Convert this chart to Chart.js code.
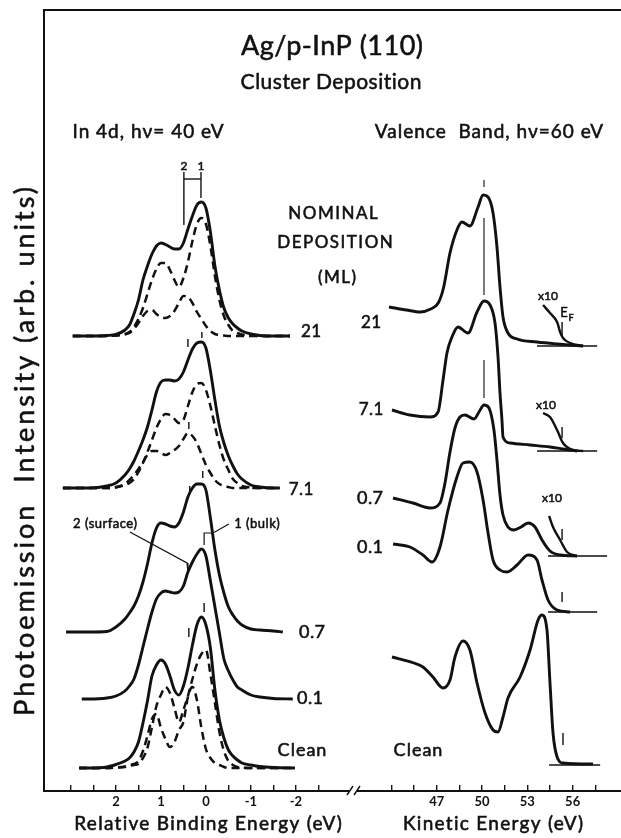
<!DOCTYPE html>
<html>
<head>
<meta charset="utf-8">
<script src="https://cdn.jsdelivr.net/npm/chart.js@4.4.1/dist/chart.umd.min.js"></script>
<style>
  html, body { margin: 0; padding: 0; background: #fff; }
  #spectra { display: block; }
</style>
</head>
<body>
<canvas id="spectra" width="621" height="838"></canvas>
<script>
// ---- In 4d core level (left panel) ----
const COVERAGES = ['21', '7.1', '0.7', '0.1', 'Clean'];

// relative binding energy (eV) at which every In 4d curve is sampled
const BE_GRID = [2.6, 2.2, 2.0, 1.8, 1.7, 1.6, 1.5, 1.4, 1.3, 1.2, 1.1, 1.0, 0.9, 0.8, 0.7, 0.6, 0.5,
  0.4, 0.3, 0.2, 0.1, 0.0, -0.1, -0.2, -0.3, -0.4, -0.5, -0.6, -0.7, -0.8, -1.0, -1.2, -1.5];

// baseline of each spectrum and where its flat wings start / end
const IN4D_OFFSET = [45.5, 30.3, 15.9, 9.2, 2.3];
const IN4D_START = [2.96, 3.18, 3.11, 2.76, 2.82];
const IN4D_END = [-1.87, -1.64, -1.71, -1.93, -1.98];

// measured spectra (arb. units above baseline)
const IN4D_21 = [0, 0.05, 0.15, 0.6, 1.1, 2.2, 3.6, 5.6, 7.0, 8.2, 9.0, 9.3, 9.15, 8.9, 8.7, 8.7, 9.3,
  10.7, 12.0, 13.1, 13.4, 12.8, 10.4, 7.0, 4.6, 2.8, 1.8, 1.2, 0.8, 0.5, 0.2, 0.05, 0];
const IN4D_71 = [0, 0.2, 0.5, 1.3, 1.9, 2.7, 3.7, 4.8, 6.1, 7.8, 9.6, 10.6, 10.8, 10.8, 10.7, 10.9, 11.6,
  12.8, 13.9, 14.5, 14.6, 14.0, 11.7, 8.8, 6.2, 4.5, 3.2, 2.2, 1.4, 0.9, 0.3, 0.1, 0];
const IN4D_07 = [0, 0.05, 0.5, 1.3, 1.9, 2.6, 3.6, 5.0, 6.8, 8.9, 10.4, 10.9, 10.8, 10.6, 10.5, 10.9, 12.0,
  13.5, 14.4, 14.8, 14.8, 14.2, 11.4, 8.2, 5.7, 3.9, 2.5, 1.7, 1.1, 0.7, 0.3, 0.2, 0.1];
const IN4D_01 = [0, 0.1, 0.3, 0.8, 1.3, 2.0, 3.4, 5.2, 7.0, 8.7, 10.0, 10.6, 10.8, 10.7, 10.6, 10.7, 11.3,
  12.7, 13.7, 14.5, 15.0, 14.3, 11.8, 9.2, 6.6, 4.0, 2.8, 1.9, 1.2, 0.9, 0.4, 0.2, 0.05];
const IN4D_CLEAN = [0, 0.1, 0.35, 0.7, 1.0, 1.6, 2.6, 4.5, 6.7, 9.2, 10.3, 10.8, 10.4, 9.2, 7.8, 7.3, 8.2,
  10.0, 12.3, 14.3, 15.1, 14.3, 12.0, 7.8, 4.8, 3.0, 1.8, 1.2, 0.8, 0.5, 0.3, 0.15, 0.05];

// fitted components: 1 = bulk, 2 = surface
const BULK_21 = [0, 0, 0.05, 0.2, 0.4, 0.9, 1.7, 2.8, 4.2, 5.6, 6.7, 7.3, 7.3, 6.6, 5.6, 4.9, 5.8,
  7.4, 9.5, 11.2, 11.8, 11.2, 9.0, 6.0, 3.6, 2.0, 1.1, 0.5, 0.3, 0.15, 0.05, 0, 0];
const SURF_21 = [0, 0, 0.05, 0.15, 0.3, 0.7, 1.3, 2.0, 2.5, 2.6, 2.2, 1.9, 1.8, 2.0, 2.5, 3.3, 4.0,
  3.9, 3.3, 2.4, 1.7, 1.0, 0.5, 0.2, 0.1, 0.05, 0, 0, 0, 0, 0, 0, 0];
const BULK_71 = [0, 0, 0.05, 0.3, 0.5, 0.9, 1.6, 2.5, 3.6, 4.8, 6.0, 6.9, 7.4, 7.3, 6.9, 6.5, 6.8,
  8.2, 9.6, 10.4, 10.5, 9.8, 8.2, 6.2, 4.3, 2.8, 1.8, 0.9, 0.5, 0.2, 0.05, 0, 0];
const SURF_71 = [0, 0, 0.1, 0.4, 0.8, 1.3, 1.9, 2.6, 3.3, 3.7, 3.7, 3.5, 3.3, 3.5, 3.8, 4.2, 4.9,
  5.5, 5.2, 4.5, 3.4, 2.3, 1.5, 0.8, 0.4, 0.2, 0.1, 0, 0, 0, 0, 0, 0];
const BULK_CLEAN = [0, 0, 0.05, 0.1, 0.2, 0.3, 0.4, 1.0, 2.0, 4.1, 6.2, 7.3, 8.1, 7.5, 6.0, 4.6, 5.8,
  7.2, 8.9, 10.4, 11.4, 11.8, 9.4, 6.5, 3.6, 1.7, 0.7, 0.3, 0.1, 0.05, 0, 0, 0];
const SURF_CLEAN = [0, 0, 0.05, 0.15, 0.3, 0.4, 0.7, 1.7, 3.2, 4.9, 5.4, 4.0, 2.9, 2.1, 2.6, 3.8, 4.6,
  7.1, 8.1, 6.8, 4.0, 1.9, 1.0, 0.5, 0.3, 0.1, 0, 0, 0, 0, 0, 0, 0];

// component position marks [BE, top, bottom]
const IN4D_MARKS = [[0.09, 45.9, 45.3], [0.40, 45.2, 44.4], [0.38, 36.9, 36.2],
  [0.07, 32.0, 31.3], [0.36, 30.5, 29.9], [0.04, 18.8, 17.9], [0.38, 16.3, 15.4]];
// "2 1" bracket on the top spectrum
const BRACKET_BE = [0.49, 0.11];
const BRACKET_Y = [61.2, 61.9, 56.6, 59.3];
// leaders for the 0.1 ML labels
const SURFACE_LEADER = [[1.69, 25.9], [0.42, 22.8], [0.40, 21.9]];
const BULK_LEADER = [[-0.51, 26.7], [-0.16, 25.8], [0.04, 25.8], [0.04, 24.6]];

const BE_TICKS = [3, 2.5, 2, 1.5, 1, 0.5, 0, -0.5, -1, -1.5, -2, -2.5];
const BE_LABELS = [2, 1, 0, -1, -2];

// ---- valence band (right panel), [kinetic energy, intensity above baseline] ----
const VB_OFFSET = [44.5, 34.0, 23.5, 17.9, 2.6];
const VB_21 = [[43.84, 3.9], [45.0, 3.6], [45.9, 3.4], [46.6, 3.7], [47.1, 4.3], [47.45, 5.8], [47.88, 9.3],
  [48.34, 11.6], [48.67, 12.4], [49.2, 12.0], [49.74, 13.9], [50.07, 15.1], [50.40, 14.9], [50.73, 13.3],
  [50.99, 9.9], [51.19, 5.9], [51.39, 2.9], [51.72, 1.3], [52.32, 0.7], [53.64, 0.4], [54.97, 0.2],
  [55.83, 0.1], [56.69, 0]];
const VB_71 = [[44.04, 4.1], [45.23, 3.6], [46.56, 3.4], [47.09, 3.9], [47.42, 7.1], [47.68, 9.8],
  [48.01, 11.4], [48.41, 12.4], [49.07, 11.8], [49.67, 13.9], [50.13, 15.0], [50.53, 14.6], [50.86, 12.8],
  [51.06, 9.4], [51.19, 5.8], [51.32, 3.1], [51.39, 1.4], [51.85, 0.8], [53.18, 0.6], [54.50, 0.4],
  [55.36, 0.2], [56.29, 0]];
const VB_07 = [[44.11, 5.8], [45.43, 5.3], [46.56, 4.8], [47.22, 5.3], [47.55, 7.3], [47.88, 10.4],
  [48.21, 12.8], [48.54, 13.9], [48.87, 14.1], [49.47, 13.7], [49.80, 14.4], [50.13, 15.1], [50.46, 14.8],
  [50.79, 12.6], [50.99, 9.6], [51.19, 6.1], [51.39, 4.1], [51.72, 2.9], [52.12, 2.6], [52.58, 2.9],
  [53.05, 3.3], [53.51, 2.9], [53.97, 1.6], [54.50, 0.5], [55.17, 0.1], [56.29, 0]];
const VB_01 = [[44.11, 6.8], [45.23, 6.5], [46.09, 5.7], [46.69, 5.0], [47.22, 6.5], [47.75, 10.2],
  [48.34, 13.5], [48.74, 14.9], [49.20, 15.0], [49.67, 14.0], [50.07, 11.2], [50.40, 7.9], [50.73, 5.2],
  [51.19, 4.2], [51.66, 4.0], [52.32, 4.7], [53.05, 5.7], [53.64, 5.2], [53.97, 3.2], [54.37, 1.2],
  [54.97, 0.2], [55.83, 0]];
const VB_CLEAN = [[44.04, 10.8], [45.5, 10.2], [46.09, 9.8], [46.75, 8.8], [47.42, 7.7], [47.88, 8.5],
  [48.21, 10.8], [48.74, 12.4], [49.20, 11.5], [49.67, 8.2], [50.20, 5.2], [50.73, 3.5], [51.06, 3.3],
  [51.39, 4.8], [51.72, 6.7], [52.52, 8.8], [53.18, 11.5], [53.71, 14.5], [53.97, 15.0], [54.30, 13.5],
  [54.50, 8.2], [54.70, 3.2], [54.97, 0.8], [55.36, 0.2], [57.35, 0.1]];

// Fermi edge region magnified x10
const VB_21_X10 = [[54.04, 4.1], [54.50, 3.3], [54.97, 2.4], [55.17, 1.4], [55.36, 0.8], [55.83, 0.3], [56.69, 0]];
const VB_71_X10 = [[54.04, 3.8], [54.50, 3.4], [54.97, 2.1], [55.36, 0.8], [56.03, 0.1], [56.69, 0]];
const VB_07_X10 = [[54.44, 4.0], [54.70, 2.9], [55.17, 1.6], [55.63, 0.4], [56.29, 0]];

// zero lines under the Fermi edge [from, to] and E_F marks [KE, top, bottom]
const VB_ZERO = [[53.64, 57.62], [53.64, 57.62], [54.37, 58.28], [54.37, 57.62], [54.44, 57.82]];
const EF_MARKS = [[55.3, 2.4, 0.9], [55.3, 2.4, 1.3], [55.3, 2.7, 1.6], [55.3, 2.0, 1.0], [55.36, 3.2, 2.0]];

// Ag 4d peak position line
const AG_PEAK_KE = 50.13;
const AG_LINE_Y = [[61.1, 60.4], [57.3, 49.6], [43.1, 39.3]];

const KE_TICKS = [44, 45.5, 47, 48.5, 50, 51.5, 53, 54.5, 56, 57.5];
const KE_LABELS = [47, 50, 53, 56];

// ---------------------------------------------------------------
const ink = '#111';
const FONT = 'Lato, "Noto Sans", sans-serif';

function in4dCurve(values, i) {
  const off = IN4D_OFFSET[i];
  const pts = BE_GRID.map((e, k) => ({ x: e, y: values[k] + off }));
  return [{ x: IN4D_START[i], y: off }, ...pts, { x: IN4D_END[i], y: off }];
}

function vbCurve(pairs, i) {
  return pairs.map(p => ({ x: p[0], y: p[1] + VB_OFFSET[i] }));
}

function curve(axis, data, dashed) {
  return {
    xAxisID: axis, yAxisID: 'y', data: data,
    borderColor: ink, borderWidth: dashed ? 2.5 : 2.9,
    borderDash: dashed ? [8, 5] : [],
    pointRadius: 0, fill: false,
    cubicInterpolationMode: 'monotone'
  };
}

function rule(axis, data, width) {
  return {
    xAxisID: axis, yAxisID: 'y', data: data,
    borderColor: ink, borderWidth: width || 1.4,
    pointRadius: 0, fill: false, tension: 0
  };
}

const datasets = [];
const totals = [IN4D_21, IN4D_71, IN4D_07, IN4D_01, IN4D_CLEAN];
totals.forEach((v, i) => datasets.push(curve('be', in4dCurve(v, i), false)));
[[BULK_21, SURF_21, 0], [BULK_71, SURF_71, 1], [BULK_CLEAN, SURF_CLEAN, 4]].forEach(([b, s, i]) => {
  datasets.push(curve('be', in4dCurve(b, i), true));
  datasets.push(curve('be', in4dCurve(s, i), true));
});
IN4D_MARKS.forEach(m => datasets.push(rule('be', [{ x: m[0], y: m[1] }, { x: m[0], y: m[2] }])));
datasets.push(rule('be', [
  { x: BRACKET_BE[0], y: BRACKET_Y[2] }, { x: BRACKET_BE[0], y: BRACKET_Y[1] }
]));
datasets.push(rule('be', [
  { x: BRACKET_BE[1], y: BRACKET_Y[3] }, { x: BRACKET_BE[1], y: BRACKET_Y[1] }
]));
datasets.push(rule('be', [
  { x: BRACKET_BE[0], y: BRACKET_Y[0] }, { x: BRACKET_BE[1], y: BRACKET_Y[0] }
]));
datasets.push(rule('be', SURFACE_LEADER.map(p => ({ x: p[0], y: p[1] })), 1.2));
datasets.push(rule('be', BULK_LEADER.map(p => ({ x: p[0], y: p[1] })), 1.2));

[VB_21, VB_71, VB_07, VB_01, VB_CLEAN].forEach((v, i) => datasets.push(curve('ke', vbCurve(v, i), false)));
[VB_21_X10, VB_71_X10, VB_07_X10].forEach((v, i) => {
  const d = curve('ke', vbCurve(v, i), false);
  d.borderWidth = 2.4;
  datasets.push(d);
});
VB_ZERO.forEach((z, i) => datasets.push(rule('ke', [
  { x: z[0], y: VB_OFFSET[i] }, { x: z[1], y: VB_OFFSET[i] }
], 1.6)));
EF_MARKS.forEach((m, i) => datasets.push(rule('ke', [
  { x: m[0], y: m[1] + VB_OFFSET[i] }, { x: m[0], y: m[2] + VB_OFFSET[i] }
])));
AG_LINE_Y.forEach(s => datasets.push(rule('ke', [
  { x: AG_PEAK_KE, y: s[0] }, { x: AG_PEAK_KE, y: s[1] }
], 1.1)));

// free-standing lettering: [text, x, y, size, letter spacing]
const LETTERING = [
  ['Ag/p-InP (110)', 332, 46, 27, 0.5],
  ['Cluster Deposition', 331, 82, 21, 0.5],
  ['In 4d, h\u03bd= 40 eV', 148, 132, 19, 1],
  ['Valence  Band, h\u03bd=60 eV', 489, 132, 19, 1],
  ['2', 184, 166, 12, 0], ['1', 201, 166, 12, 0],
  ['NOMINAL', 333, 214, 17, 1.5], ['DEPOSITION', 335, 243, 17, 1.5], ['(ML)', 337, 278, 17, 1.5],
  ['21', 311, 332, 17, 0.5], ['7.1', 301, 490, 17, 0.5], ['0.7', 312, 632, 18, 0.5], ['0.1', 310, 698, 18, 0.5],
  ['Clean', 302, 750, 18, 1],
  ['21', 371, 323, 17, 0.5], ['7.1', 371, 410, 17, 0.5], ['0.7', 370, 498, 18, 0.5], ['0.1', 370, 547, 18, 0.5],
  ['Clean', 418, 750, 18, 1],
  ['2 (surface)', 105, 524, 13, 0.5], ['1 (bulk)', 257, 524, 13, 0.5],
  ['x10', 548, 296, 12, 0], ['x10', 546, 405, 12, 0], ['x10', 552, 498, 12, 0],
  ['E', 564, 313, 13, 0], ['F', 571, 318, 9, 0],
  ['Relative Binding Energy (eV)', 208, 824, 19, 1.3],
  ['Kinetic Energy (eV)', 493, 824, 19, 1.3]
];

// hand lettering is a little heavier than the regular face
function letter(ctx, text, x, y) {
  ctx.fillText(text, x, y);
  ctx.strokeText(text, x, y);
}

const decorations = {
  id: 'decorations',
  afterDraw(chart) {
    const { ctx, chartArea: a } = chart;
    ctx.save();
    ctx.strokeStyle = ink;
    ctx.lineWidth = 2;
    ctx.beginPath();
    ctx.moveTo(a.left, a.bottom);
    ctx.lineTo(a.left, a.top);
    ctx.lineTo(a.right, a.top);
    ctx.stroke();

    // break between the two energy scales
    const bx = chart.scales.ke.left;
    ctx.fillStyle = '#fff';
    ctx.fillRect(bx - 4, a.bottom - 3, 8, 6);
    ctx.lineWidth = 1.4;
    ctx.beginPath();
    ctx.moveTo(bx - 6, a.bottom + 4); ctx.lineTo(bx, a.bottom - 5);
    ctx.moveTo(bx + 1, a.bottom + 4); ctx.lineTo(bx + 7, a.bottom - 5);
    ctx.stroke();

    ctx.fillStyle = ink;
    ctx.lineWidth = 0.55;
    ctx.lineJoin = 'round';
    ctx.textBaseline = 'middle';
    ctx.textAlign = 'center';
    LETTERING.forEach(([t, x, y, size, gap]) => {
      ctx.font = size + 'px ' + FONT;
      ctx.letterSpacing = gap + 'px';
      letter(ctx, t, x + gap / 2, y);
    });

    ctx.translate(25, 450);
    ctx.rotate(-Math.PI / 2);
    ctx.font = '27px ' + FONT;
    ctx.letterSpacing = '3px';
    letter(ctx, 'Photoemission  Intensity (arb. units)', 0, 0);
    ctx.restore();
  }
};

function energyAxis(ticks, labels, extra) {
  return Object.assign({
    type: 'linear',
    position: 'bottom',
    stack: 'energy',
    afterBuildTicks: s => { s.ticks = ticks.map(v => ({ value: v })); },
    afterFit: s => { s.height = 47; },
    grid: { drawOnChartArea: false, tickLength: -6, color: ink, lineWidth: 1.4 },
    border: { color: ink, width: 2 },
    ticks: {
      autoSkip: false, maxRotation: 0, padding: 9, color: ink,
      font: { family: FONT, size: 13, weight: 'bold' },
      callback: v => labels.includes(v) ? String(v) : ''
    }
  }, extra);
}

new Chart(document.getElementById('spectra'), {
  type: 'line',
  data: { datasets: datasets },
  options: {
    responsive: false,
    animation: false,
    events: [],
    layout: { padding: { left: 44, top: 10, right: 0, bottom: 0 } },
    plugins: { legend: { display: false }, tooltip: { enabled: false } },
    scales: {
      be: energyAxis(BE_TICKS, BE_LABELS, { reverse: true, min: -3.27, max: 3.6, stackWeight: 309 }),
      ke: energyAxis(KE_TICKS, KE_LABELS, { min: 41.46, max: 59.2, stackWeight: 268 }),
      y: { type: 'linear', display: false, min: 0, max: 78.1 }
    }
  },
  plugins: [decorations]
});
</script>
</body>
</html>
